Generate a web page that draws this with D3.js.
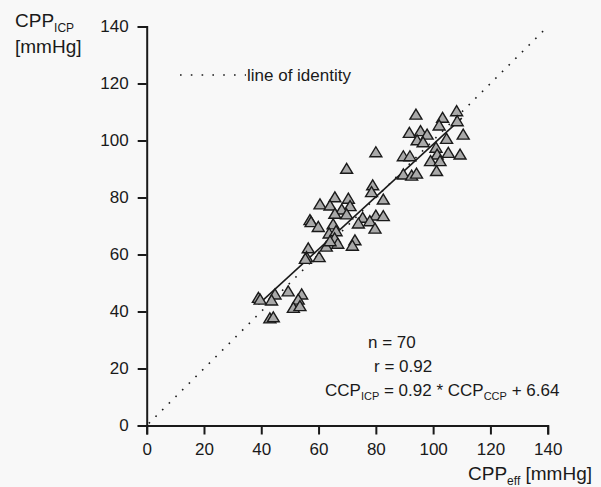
<!DOCTYPE html>
<html><head><meta charset="utf-8">
<script src="https://cdn.jsdelivr.net/npm/d3@7/dist/d3.min.js"></script>
<style>
html,body{margin:0;padding:0;background:#f8f8f8;}
svg{display:block;font-family:"Liberation Sans",Arial,sans-serif;}
</style></head>
<body>
<svg id="c" width="601" height="487"></svg>
<script>
const xTicks = [0,20,40,60,80,100,120,140];
const yTicks = [0,20,40,60,80,100,120,140];
const cppEff = [39.0,39.6,44.8,43.6,49.4,54.1,52.9,51.2,53.5,43.0,44.2,
  78.9,78.5,82.6,65.7,70.4,60.5,64.0,71.0,68.1,65.7,69.8,57.0,57.4,59.9,65.1,75.4,73.9,80.0,82.6,77.9,79.7,63.7,66.1,65.6,66.7,72.7,71.8,62.7,56.4,55.8,55.4,60.2,64.0,
  80.0,69.8,
  94.0,108.2,103.3,102.1,108.4,91.7,95.6,97.9,94.4,96.5,110.5,104.7,101.0,101.4,105.3,109.4,89.6,91.9,99.1,102.4,101.2,89.6,92.5,94.2];
const cppIcp = [44.6,44.0,45.8,43.7,46.9,45.8,44.0,41.1,41.7,37.4,37.8,
  84.1,81.7,79.1,79.9,79.4,77.4,77.0,76.8,75.6,74.1,73.9,71.9,71.2,69.5,70.4,72.7,70.7,73.5,73.3,71.5,68.9,67.2,68.0,65.5,63.6,64.8,62.9,62.6,62.0,58.9,58.3,58.9,64.5,
  95.7,89.9,
  108.9,110.1,107.8,105.1,106.6,102.5,103.1,101.9,99.9,99.2,101.9,100.4,97.3,94.9,95.5,94.9,94.3,94.3,92.6,92.6,89.1,87.9,87.5,88.2];
const slope = 0.92, intercept = 6.64;
const fitRange = [39, 110];
const identityRange = [0, 140];

const svg = d3.select("#c");
const x = d3.scaleLinear().domain([0,140]).range([146.7,547.7]);
const y = d3.scaleLinear().domain([0,140]).range([425.5,26.5]);

const ink = "#1a1a1a";
const gx = svg.append("g").attr("transform",`translate(0,${y(0)})`)
  .call(d3.axisBottom(x).tickValues(xTicks).tickSize(9).tickPadding(8));
const gy = svg.append("g").attr("transform",`translate(${x(0)},0)`)
  .call(d3.axisLeft(y).tickValues(yTicks).tickSize(9).tickPadding(9));
[gx,gy].forEach(g=>{
  g.selectAll("path,line").attr("stroke",ink).attr("stroke-width",2);
  g.selectAll("text").attr("fill",ink).attr("font-size",17).attr("font-family","Liberation Sans, Arial, sans-serif");
});

// identity line
svg.append("line")
  .attr("x1",x(identityRange[0])).attr("y1",y(identityRange[0]))
  .attr("x2",x(identityRange[1])).attr("y2",y(identityRange[1]))
  .attr("stroke",ink).attr("stroke-width",1.6)
  .attr("stroke-dasharray","1.6 7.8").attr("stroke-dashoffset",-3);

// regression line
svg.append("line")
  .attr("x1",x(fitRange[0])).attr("y1",y(slope*fitRange[0]+intercept))
  .attr("x2",x(fitRange[1])).attr("y2",y(slope*fitRange[1]+intercept))
  .attr("stroke",ink).attr("stroke-width",1.6);

// triangles
const tri = "M0,-6L6,4L-6,4Z";
svg.append("g").selectAll("path").data(cppEff.map((v,i)=>[v,cppIcp[i]]))
  .join("path")
  .attr("d",tri)
  .attr("transform",d=>`translate(${x(d[0])},${y(d[1])})`)
  .attr("fill","#a9a9a9").attr("stroke",ink).attr("stroke-width",1.4)
  .attr("stroke-linejoin","miter");

// legend
svg.append("line").attr("x1",180).attr("y1",75).attr("x2",246).attr("y2",75)
  .attr("stroke",ink).attr("stroke-width",1.6).attr("stroke-dasharray","1.6 9.2");
svg.append("text").attr("x",247).attr("y",81).attr("font-size",17).attr("fill",ink).text("line of identity");

// y axis label
const yl = svg.append("text").attr("x",15).attr("y",27).attr("font-size",19).attr("fill",ink);
yl.append("tspan").text("CPP");
yl.append("tspan").attr("font-size",12).attr("dy",5).text("ICP");
svg.append("text").attr("x",15).attr("y",53).attr("font-size",19).attr("fill",ink).text("[mmHg]");

// x axis label
const xl = svg.append("text").attr("x",592).attr("y",480).attr("text-anchor","end").attr("font-size",19).attr("fill",ink);
xl.append("tspan").text("CPP");
xl.append("tspan").attr("font-size",12).attr("dy",5).text("eff");
xl.append("tspan").attr("dy",-5).text(" [mmHg]");

// stats
svg.append("text").attr("x",368).attr("y",348).attr("font-size",17).attr("fill",ink).text("n = 70");
svg.append("text").attr("x",374).attr("y",372).attr("font-size",17).attr("fill",ink).text("r = 0.92");
const eq = svg.append("text").attr("x",325).attr("y",396).attr("font-size",17).attr("fill",ink);
eq.append("tspan").text("CCP");
eq.append("tspan").attr("font-size",11).attr("dy",4).text("ICP");
eq.append("tspan").attr("dy",-4).text(" = 0.92 * CCP");
eq.append("tspan").attr("font-size",11).attr("dy",4).text("CCP");
eq.append("tspan").attr("dy",-4).text(" + 6.64");
</script>
</body></html>
